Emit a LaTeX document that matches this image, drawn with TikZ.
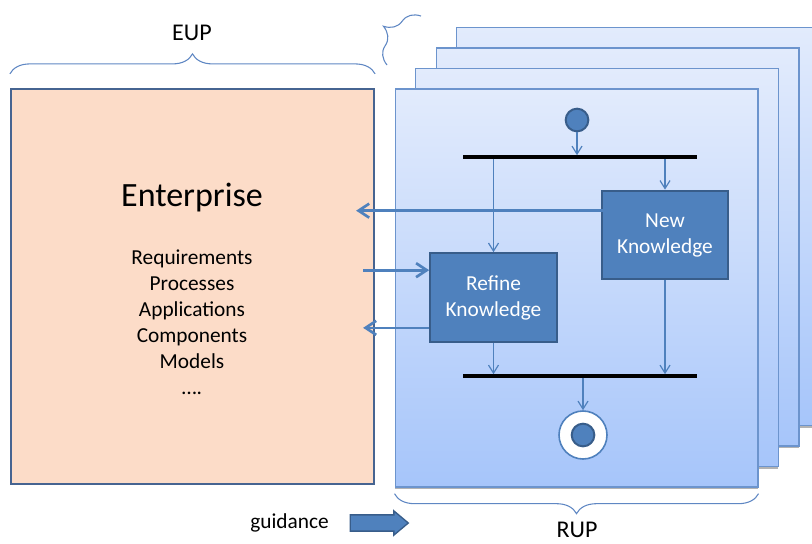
\documentclass[tikz,border=0pt]{standalone}
\usepackage{fontspec}
\setmainfont{Carlito}
\usepackage{xcolor}
\usepackage{tikz}
\definecolor{peach}{RGB}{252, 220, 200}
\definecolor{entborder}{RGB}{70, 100, 145}
\definecolor{pagetop}{RGB}{226, 235, 252}
\definecolor{pagebottom}{RGB}{166, 197, 250}
\definecolor{pageborder}{RGB}{108, 148, 205}
\definecolor{actblue}{RGB}{79, 129, 189}
\definecolor{actborder}{RGB}{56, 93, 138}
\definecolor{bracecol}{RGB}{95, 135, 195}
\usetikzlibrary{arrows.meta, positioning, calc, shapes.arrows, shadows, decorations.pathreplacing}

\begin{document}
\begin{tikzpicture}[
    x=0.75pt, y=-0.75pt,
    every node/.style={font=\fontsize{16}{19.5}\selectfont},
    entbox/.style={rectangle, draw=entborder, line width=1.9pt, fill=peach,
                   minimum width=272pt, minimum height=296pt},
    pagebox/.style={rectangle, draw=pageborder, line width=1pt,
                    top color=pagetop, bottom color=pagebottom,
                    minimum width=272pt, minimum height=298.5pt,
                    drop shadow={shadow xshift=0pt, shadow yshift=-1.5pt,
                                 fill=black!50, opacity=0.6}},
    actbox/.style={rectangle, draw=actborder, line width=1.5pt, fill=actblue,
                   text=white, align=center, minimum width=95pt, minimum height=66.5pt},
    initnode/.style={circle, draw=actborder, line width=1.5pt, fill=actblue,
                     minimum size=17pt, inner sep=0pt},
    finalring/.style={circle, draw=actblue, line width=1.2pt, fill=white,
                      minimum size=36pt, inner sep=0pt},
    syncbar/.style={rectangle, fill=black, minimum width=175.5pt,
                    minimum height=2.3pt, inner sep=0pt},
    flow/.style={-{Straight Barb[length=6pt, width=7.5pt]}, draw=actblue, line width=0.9pt},
    bigflow/.style={-{Straight Barb[length=8pt, width=10.5pt]}, draw=actblue, line width=2pt},
    curly/.style={draw=bracecol, line width=0.8pt, decorate,
                  decoration={brace, amplitude=15pt}},
    guidarrow/.style={single arrow, draw=actborder, line width=1pt, fill=actblue,
                      minimum height=43.5pt, minimum width=0pt,
                      inner xsep=0pt, inner ysep=5.6pt, text height=0pt, text depth=0pt,
                      single arrow head extend=3pt, single arrow tip angle=80}
]
    \useasboundingbox (0,0) rectangle (812,543);

    % stack of process pages, back to front
    \foreach \k in {3,2,1,0}
        \node[pagebox] (page\k) at (576.5+20.5*\k, 288-20.5*\k) {};

    % Enterprise side
    \node[entbox] (ent) at (192.5,286.5) {};
    \node[font=\fontsize{25.5}{30}\selectfont] (enttitle) at (192,198) {Enterprise};
    \node[align=center] (entlist) at (192,322)
        {Requirements\\Processes\\Applications\\Components\\Models\\….};

    % activity flow on the front page
    \node[initnode] (init) at (577,120) {};
    \node[syncbar] (forkbar) at (580,157) {};
    \node[actbox] (newk) at (665,235) {New\\Knowledge};
    \node[actbox] (refinek) at (493.5,297.5) {Refine\\Knowledge};
    \node[syncbar] (joinbar) at (580,376) {};
    \node[finalring] (final) at (583,435) {};
    \node[initnode] (finaldot) at (583,435) {};

    \draw[flow] (init) -- (init |- forkbar.north);
    \draw[flow] (forkbar.south -| refinek) -- (refinek.north);
    \draw[flow] (forkbar.south -| newk) -- (newk.north);
    \draw[flow] (refinek.south) -- (refinek.south |- joinbar.north);
    \draw[flow] (newk.south) -- (newk.south |- joinbar.north);
    \draw[flow] (joinbar.south -| final) -- (final.north);

    % exchange with the enterprise
    \coordinate (outnew) at ($(newk.north west)+(12,21)$);
    \coordinate (inref) at ($(refinek.north west)+(0,18)$);
    \coordinate (outref) at ($(refinek.south west)+(0,-15)$);
    \draw[bigflow] (outnew) -- ($(ent.east |- outnew)+(-19,0)$);
    \draw[bigflow] ($(ent.east |- inref)+(-12,0)$) -- (inref);
    \draw[bigflow] (outref) -- ($(ent.east |- outref)+(-12,0)$);

    % braces and labels
    \draw[curly] ([yshift=10.5pt]ent.north west) -- ([yshift=10.5pt]ent.north east);
    \node[font=\fontsize{18}{22}\selectfont] (euplabel) at (192,33) {EUP};
    \coordinate (stacklo) at (387,65);
    \coordinate (stackhi) at (421,16);
    \draw[curly, decoration={amplitude=18.75pt}] (stacklo) -- (stackhi);
    \draw[curly] ([yshift=-4.5pt]page0.south east) -- ([yshift=-4.5pt]page0.south west);
    \node[font=\fontsize{18}{22}\selectfont] (ruplabel) at (577,530) {RUP};

    % guidance
    \node[inner sep=0pt] (guide) at (289.5,523) {guidance};
    \node[guidarrow, right=15.5pt of guide] (guidearrow) {};
\end{tikzpicture}
\end{document}
